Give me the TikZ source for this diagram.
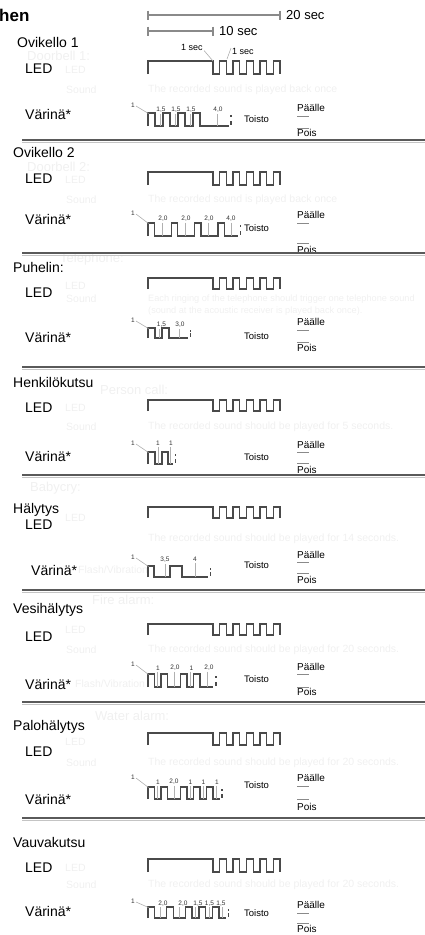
\documentclass[tikz,border=0pt]{standalone}
\usepackage{fontspec}
\setmainfont{Liberation Sans}
\definecolor{wavec}{HTML}{4A4A4A}
\definecolor{numc}{HTML}{333333}
\definecolor{tickc}{HTML}{B0B0B0}
\definecolor{scalec}{HTML}{8A8A8A}
\definecolor{sepc}{HTML}{5A5A5A}
\definecolor{seplc}{HTML}{C4C4C4}
\definecolor{ghostc}{HTML}{F0F0F0}
\tikzset{
 wave/.style={draw=wavec, line width=1.3pt, line join=miter},
 lbl/.style={anchor=west, inner sep=0pt, font=\fontsize{14}{16}\selectfont},
 num/.style={inner sep=0pt, font=\fontsize{6.5}{7}\selectfont, text=numc},
 tickline/.style={draw=tickc, line width=0.6pt},
 smalltxt/.style={anchor=west, inner sep=0pt, font=\fontsize{9.5}{11}\selectfont},
 legendtxt/.style={anchor=west, inner sep=0pt, font=\fontsize{10}{12}\selectfont},
 legendline/.style={draw=scalec, line width=0.9pt},
 ghost/.style={anchor=west, inner sep=0pt, text=ghostc, font=\fontsize{10.5}{12}\selectfont},
 ghosthead/.style={anchor=west, inner sep=0pt, text=ghostc, font=\fontsize{13}{15}\selectfont},
 sepline/.style={draw=sepc, line width=2pt},
 seplight/.style={draw=seplc, line width=0.9pt},
 scalebar/.style={draw=scalec, line width=1.2pt},
}
\newcommand\ledwave[2]{\draw[wave] (148,#2) -- (148,#1) -- (213,#1) -- (213,#2) -- (219.7,#2) -- (219.7,#1) -- (226.4,#1) -- (226.4,#2) -- (233.1,#2) -- (233.1,#1) -- (239.8,#1) -- (239.8,#2) -- (246.5,#2) -- (246.5,#1) -- (253.2,#1) -- (253.2,#2) -- (259.9,#2) -- (259.9,#1) -- (266.6,#1) -- (266.6,#2) -- (273.3,#2) -- (273.3,#1) -- (280,#1) -- (280,#2);}
\newcommand\vibwave[4]{\draw[wave] (148,#2) \foreach \s/\e in {#3} { -- (\s,#2) -- (\s,#1) -- (\e,#1) -- (\e,#2) } -- (#4,#2);}
\newcommand\repmark[3]{\fill[wavec] (#1-0.7,#2+2) rectangle (#1+0.7,#2+4.2); \fill[wavec] (#1-0.7,#3-5) rectangle (#1+0.7,#3-1.5);}
\newcommand\vlab[5]{\node[num] at (#1,#4) {#3}; \draw[tickline] (#2,#4+3.5) -- (#2,#5);}
\newcommand\onelab[2]{\node[num] at (133,#1) {1}; \draw[tickline] (136,#1+1) -- (148.5,#2+0.5);}
\newcommand\legendpair[4]{\node[legendtxt] at (297,#1) {Päälle}; \draw[legendline] (297,#2) -- (309,#2); \node[legendtxt] at (297,#3) {Pois}; \draw[legendline] (297,#4) -- (309,#4);}
\newcommand\separator[1]{\draw[sepline] (22,#1) -- (425,#1); \draw[seplight] (22,#1+2) -- (425,#1+2);}
\begin{document}
\begin{tikzpicture}[x=1pt,y=-1pt]
\useasboundingbox (0,0) rectangle (425,935);
% ghost text (faint background)
\node[ghosthead] at (27,56) {Doorbell 1:};
\node[ghost] at (65,70) {LED};
\node[ghost] at (66,90) {Sound};
\node[ghost] at (148,90) {The recorded sound is played back once};
\node[ghosthead] at (27,167) {Doorbell 2:};
\node[ghost] at (65,180) {LED};
\node[ghost] at (66,200) {Sound};
\node[ghost] at (148,200) {The recorded sound is played back once};
\node[ghosthead] at (60,259) {Telephone:};
\node[ghost] at (65,286) {LED};
\node[ghost] at (66,299) {Sound};
\node[ghost, font=\fontsize{9.2}{11}\selectfont] at (148,299) {Each ringing of the telephone should trigger one telephone sound};
\node[ghost, font=\fontsize{9.2}{11}\selectfont] at (148,311) {(sound at the acoustic receiver is played back once).};
\node[ghosthead] at (100,390) {Person call:};
\node[ghost] at (65,408) {LED};
\node[ghost] at (66,427) {Sound};
\node[ghost] at (148,427) {The recorded sound should be played for 5 seconds.};
\node[ghosthead] at (30,488) {Babycry:};
\node[ghost] at (65,518) {LED};
\node[ghost] at (148,539) {The recorded sound should be played for 14 seconds.};
\node[ghost] at (78,570) {Flash/Vibration};
\node[ghosthead] at (92,600) {Fire alarm:};
\node[ghost] at (65,630) {LED};
\node[ghost] at (66,650) {Sound};
\node[ghost] at (148,650) {The recorded sound should be played for 20 seconds.};
\node[ghost] at (75,684) {Flash/Vibration};
\node[ghosthead] at (95,716) {Water alarm:};
\node[ghost] at (65,742) {LED};
\node[ghost] at (66,763) {Sound};
\node[ghost] at (148,763) {The recorded sound should be played for 20 seconds.};
\node[ghost] at (65,868) {LED};
\node[ghost] at (66,885) {Sound};
\node[ghost] at (148,885) {The recorded sound should be played for 20 seconds.};
% title
\node[anchor=west, inner sep=0pt, font=\bfseries\fontsize{17}{19}\selectfont] (title) at (-1,15) {hen};
% scale bars
\draw[scalebar] (148,15) -- (280,15);
\draw[scalebar] (148,10.5) -- (148,19.5);
\draw[scalebar] (280,10.5) -- (280,19.5);
\node[anchor=west, inner sep=0pt, font=\fontsize{13}{15}\selectfont] (s20) at (286,15) {20 sec};
\draw[scalebar] (148,31) -- (213,31);
\draw[scalebar] (148,26.5) -- (148,35.5);
\draw[scalebar] (213,26.5) -- (213,35.5);
\node[anchor=west, inner sep=0pt, font=\fontsize{13}{15}\selectfont] (s10) at (219,31) {10 sec};
% ---- Ovikello 1
\node[lbl] (t1) at (17,42) {Ovikello 1};
\node[lbl] (l1) at (25,69) {LED};
\ledwave{61}{74}
\node[inner sep=0pt, font=\fontsize{9}{10}\selectfont] (sec1) at (192,47) {1 sec};
\node[inner sep=0pt, font=\fontsize{9}{10}\selectfont] (sec2) at (243,51) {1 sec};
\draw[tickline] (204,50.5) -- (213,61);
\draw[tickline] (231,48) -- (227,59);
\node[lbl] (v1) at (25,114) {Värinä*};
\vibwave{113}{126}{148/155,163/170,178/185,193/200}{229}
\repmark{231}{113}{126}
\onelab{105}{113}
\vlab{161}{160}{1,5}{110}{126}
\vlab{176}{175}{1,5}{110}{126}
\vlab{191}{190}{1,5}{110}{126}
\vlab{218}{217}{4,0}{110}{126}
\node[smalltxt] (r1) at (244,119) {Toisto};
\legendpair{108}{116}{133}{128}
\separator{140}
% ---- Ovikello 2
\node[lbl] (t2) at (13,152) {Ovikello 2};
\node[lbl] (l2) at (25,179) {LED};
\ledwave{172}{185}
\node[lbl] (v2) at (25,219) {Värinä*};
\vibwave{223}{236}{148/154.5,171.3/177.8,194.6/201.1,217.9/224.4}{238}
\repmark{240.5}{223}{236}
\onelab{213}{223}
\vlab{163}{162}{2,0}{219}{236}
\vlab{186}{185.5}{2,0}{219}{236}
\vlab{209}{208.5}{2,0}{219}{236}
\vlab{231}{231}{4,0}{219}{236}
\node[smalltxt] (r2) at (244,228) {Toisto};
\legendpair{215}{223}{250}{243}
\separator{253}
% ---- Puhelin
\node[lbl] (t3) at (13,267) {Puhelin:};
\node[lbl] (l3) at (25,293) {LED};
\ledwave{278}{289}
\node[lbl] (v3) at (25,337) {Värinä*};
\vibwave{328}{338}{148/155,162/169}{188}
\repmark{190.5}{328}{338}
\onelab{320}{328}
\vlab{161.5}{159}{1,5}{325}{338}
\vlab{180}{179.5}{3,0}{325}{338}
\node[smalltxt] (r3) at (244,336) {Toisto};
\legendpair{322}{330}{348}{342}
\separator{367}
% ---- Henkilökutsu
\node[lbl] (t4) at (13,382) {Henkilökutsu};
\node[lbl] (l4) at (25,408) {LED};
\ledwave{400}{411}
\node[lbl] (v4) at (25,456) {Värinä*};
\vibwave{452}{464}{148/155,162/168}{173}
\repmark{175.5}{452}{464}
\onelab{443}{452}
\vlab{158}{158.5}{1}{443}{464}
\vlab{171}{170.5}{1}{443}{464}
\node[smalltxt] (r4) at (244,457) {Toisto};
\legendpair{445}{452}{470}{463}
\separator{475}
% ---- Hälytys
\node[lbl] (t5) at (13,510) {Hälytys};
\node[lbl] (l5) at (25,525) {LED};
\ledwave{507}{518}
\node[lbl] (v5) at (31,570) {Värinä*};
\vibwave{566}{577}{148/154,170/182}{208}
\repmark{210.5}{566}{577}
\onelab{557}{566}
\vlab{165}{165}{3,5}{560}{577}
\vlab{195}{195}{4}{559}{577}
\node[smalltxt] (r5) at (244,565) {Toisto};
\legendpair{555}{562}{580}{573}
\separator{590}
% ---- Vesihälytys
\node[lbl] (t6) at (13,610) {Vesihälytys};
\node[lbl] (l6) at (25,637) {LED};
\ledwave{624}{635}
\node[lbl] (v6) at (25,684) {Värinä*};
\vibwave{674}{687}{148/154.5,161/167.5,180.5/187,193.5/200}{213}
\repmark{216}{674}{687}
\onelab{664}{674}
\vlab{158}{157.5}{1}{668}{687}
\vlab{175}{174.5}{2,0}{668}{687}
\vlab{191.5}{190.5}{1}{668}{687}
\vlab{209}{207}{2,0}{668}{687}
\node[smalltxt] (r6) at (244,679) {Toisto};
\legendpair{667}{674}{692}{687}
\separator{702}
% ---- Palohälytys
\node[lbl] (t7) at (13,727) {Palohälytys};
\node[lbl] (l7) at (25,752) {LED};
\ledwave{733}{745}
\node[lbl] (v7) at (25,799) {Värinä*};
\vibwave{787}{799}{148/154.5,161/167.5,180.5/187,193.5/200,206.5/213}{219.5}
\repmark{222}{787}{799}
\onelab{777}{787}
\vlab{158}{157.5}{1}{782}{799}
\vlab{174}{174}{2,0}{782}{799}
\vlab{190.5}{190.5}{1}{782}{799}
\vlab{203.5}{203.5}{1}{782}{799}
\vlab{217}{216.5}{1}{782}{799}
\node[smalltxt] (r7) at (244,785) {Toisto};
\legendpair{778}{786}{807}{799}
\separator{818}
% ---- Vauvakutsu
\node[lbl] (t8) at (13,842) {Vauvakutsu};
\node[lbl] (l8) at (25,868) {LED};
\ledwave{859}{872}
\node[lbl] (v8) at (25,911) {Värinä*};
\vibwave{907}{918}{148/154.5,166.75/173.25,185.5/192,199/205.5,212.5/219}{226}
\repmark{228.5}{907}{918}
\onelab{901}{907}
\vlab{163}{160.5}{2,0}{903.5}{918}
\vlab{183}{179.5}{2,0}{903.5}{918}
\vlab{198}{195.5}{1,5}{903.5}{918}
\vlab{209.5}{209}{1,5}{903.5}{918}
\vlab{221}{222.5}{1,5}{903.5}{918}
\node[smalltxt] (r8) at (244,913) {Toisto};
\legendpair{905}{913}{929}{923}
\end{tikzpicture}
\end{document}
